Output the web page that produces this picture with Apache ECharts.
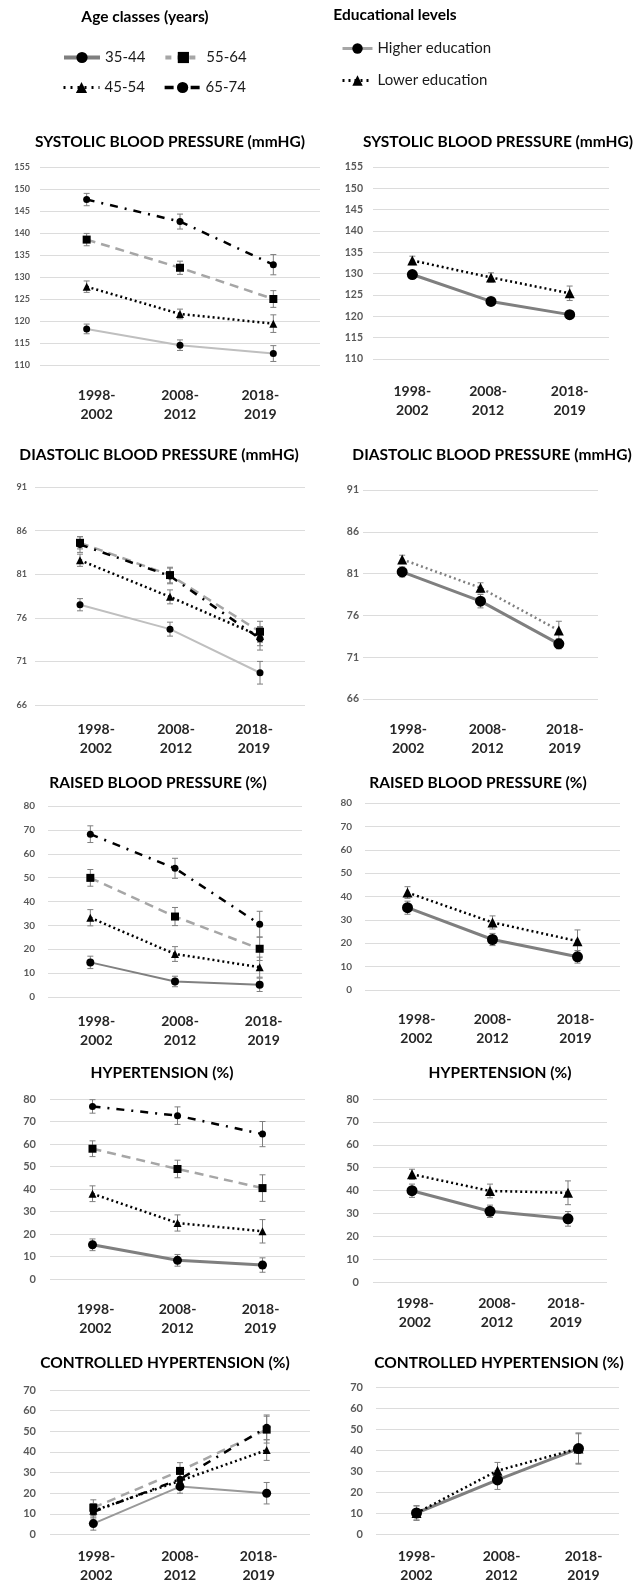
<!DOCTYPE html>
<html><head><meta charset="utf-8">
<script src="https://cdn.jsdelivr.net/npm/echarts@6/dist/echarts.min.js"></script>
<style>html,body{margin:0;padding:0;background:#fff}#c{width:639px;height:1582px}</style>
</head><body><div id="c"></div>
<script>
// ---------------- DATA ----------------
const categories = ['1998-\n2002', '2008-\n2012', '2018-\n2019'];
const ageGroups = ['35-44', '45-54', '55-64', '65-74'];
const eduGroups = ['Higher education', 'Lower education'];

// tick labels
const ticksSBP = [110, 115, 120, 125, 130, 135, 140, 145, 150, 155];
const ticksDBP = [66, 71, 76, 81, 86, 91];
const ticksRaised = [0, 10, 20, 30, 40, 50, 60, 70, 80];
const ticksHyp = [0, 10, 20, 30, 40, 50, 60, 70, 80];
const ticksCtrl = [0, 10, 20, 30, 40, 50, 60, 70];

// Systolic blood pressure (mmHg)
const sbp_35_44 = [118.2, 114.5, 112.6], sbp_35_44_err = [1.1, 1.2, 1.8];
const sbp_45_54 = [127.8, 121.6, 119.4], sbp_45_54_err = [1.3, 1.1, 2.0];
const sbp_55_64 = [138.5, 132.1, 125.0], sbp_55_64_err = [1.4, 1.5, 1.9];
const sbp_65_74 = [147.6, 142.6, 132.8], sbp_65_74_err = [1.4, 1.7, 2.3];
const sbp_higher = [129.8, 123.5, 120.4], sbp_higher_err = [0.6, 0.5, 0.8];
const sbp_lower = [133.1, 129.1, 125.4], sbp_lower_err = [1.0, 1.1, 1.7];

// Diastolic blood pressure (mmHg)
const dbp_35_44 = [77.5, 74.7, 69.7], dbp_35_44_err = [0.7, 0.8, 1.3];
const dbp_45_54 = [82.6, 78.4, 73.9], dbp_45_54_err = [0.7, 0.8, 1.1];
const dbp_55_64 = [84.6, 80.9, 74.4], dbp_55_64_err = [0.7, 0.9, 1.2];
const dbp_65_74 = [84.4, 80.8, 73.6], dbp_65_74_err = [0.9, 0.9, 1.3];
const dbp_higher = [81.2, 77.7, 72.6], dbp_higher_err = [0.6, 0.8, 0.6];
const dbp_lower = [82.7, 79.3, 74.2], dbp_lower_err = [0.5, 0.6, 1.1];

// Raised blood pressure (%)
const rbp_35_44 = [14.5, 6.5, 5.1], rbp_35_44_err = [2.6, 2.2, 2.8];
const rbp_45_54 = [33.2, 18.0, 12.5], rbp_45_54_err = [3.4, 3.1, 4.2];
const rbp_55_64 = [49.9, 33.7, 20.2], rbp_55_64_err = [3.5, 3.8, 4.9];
const rbp_65_74 = [68.2, 53.9, 30.5], rbp_65_74_err = [3.5, 4.2, 5.4];
const rbp_higher = [35.2, 21.6, 14.2], rbp_higher_err = [2.8, 2.6, 2.7];
const rbp_lower = [41.7, 28.9, 20.9], rbp_lower_err = [2.5, 2.8, 4.8];

// Hypertension (%)
const hyp_35_44 = [15.2, 8.3, 6.2], hyp_35_44_err = [2.6, 2.6, 3.2];
const hyp_45_54 = [37.9, 24.9, 21.2], hyp_45_54_err = [3.5, 3.6, 5.2];
const hyp_55_64 = [57.9, 48.9, 40.4], hyp_55_64_err = [3.5, 3.9, 5.9];
const hyp_65_74 = [76.7, 72.6, 64.4], hyp_65_74_err = [3.0, 3.9, 5.6];
const hyp_higher = [39.9, 30.9, 27.6], hyp_higher_err = [2.9, 2.7, 3.2];
const hyp_lower = [47.1, 39.8, 39.0], hyp_lower_err = [2.2, 3.0, 5.2];

// Controlled hypertension (%)
const ctl_35_44 = [5.3, 23.2, 20.0], ctl_35_44_err = [3.2, 3.2, 5.2];
const ctl_45_54 = [11.5, 26.0, 40.9], ctl_45_54_err = [3.5, 4.0, 5.0];
const ctl_55_64 = [13.0, 30.8, 50.8], ctl_55_64_err = [3.8, 4.0, 6.5];
const ctl_65_74 = [11.0, 26.8, 51.9], ctl_65_74_err = [4.0, 4.5, 6.0];
const ctl_higher = [10.2, 25.9, 40.8], ctl_higher_err = [3.3, 4.5, 7.0];
const ctl_lower = [10.2, 30.3, 40.8], ctl_lower_err = [3.5, 3.9, 7.4];

// ---------------- STYLE / LAYOUT ----------------
const FONT = 'Lato, "Open Sans", sans-serif';
const ageStyle = {
  '35-44': { symbol: 'circle', size: 7, line: { color: '#bfbfbf', width: 2, type: 'solid' } },
  '45-54': { symbol: 'triangle', size: 8, line: { color: '#000', width: 2.5, type: [2, 3] } },
  '55-64': { symbol: 'rect', size: 8, line: { color: '#a6a6a6', width: 2.5, type: [9, 6] } },
  '65-74': { symbol: 'circle', size: 7, line: { color: '#000', width: 2.5, type: [8, 7, 2, 7] } }
};
const eduStyle = {
  'Higher education': { symbol: 'circle', size: 11, line: { color: '#7f7f7f', width: 3, type: 'solid' } },
  'Lower education': { symbol: 'triangle', size: 10, line: { color: '#000', width: 2.5, type: [2, 3] } }
};

const panels = [
  { title: 'SYSTOLIC BLOOD PRESSURE (mmHG)', tx: 170, ty: 142, grid: [40, 167, 280, 198], ticks: ticksSBP, yfs: 9, ym: 10, xm: 21, shift: [10, 0, -13],
    kind: 'age', vals: [[sbp_35_44, sbp_35_44_err], [sbp_45_54, sbp_45_54_err], [sbp_55_64, sbp_55_64_err], [sbp_65_74, sbp_65_74_err]], o35: { color: '#bfbfbf', width: 2, size: 7 } },
  { title: 'SYSTOLIC BLOOD PRESSURE (mmHG)', tx: 498, ty: 142, grid: [373, 167, 236, 192], ticks: ticksSBP, yfs: 10.5, ym: 10, xm: 23, shift: [0, -3, 0],
    kind: 'edu', vals: [[sbp_higher, sbp_higher_err], [sbp_lower, sbp_lower_err]] },
  { title: 'DIASTOLIC BLOOD PRESSURE (mmHG)', tx: 159, ty: 455, grid: [35, 487, 270, 218], ticks: ticksDBP, yfs: 9, ym: 8, xm: 15, shift: [16, 6, -6],
    kind: 'age', vals: [[dbp_35_44, dbp_35_44_err], [dbp_45_54, dbp_45_54_err], [dbp_55_64, dbp_55_64_err], [dbp_65_74, dbp_65_74_err]], o35: { color: '#bfbfbf', width: 2, size: 7 } },
  { title: 'DIASTOLIC BLOOD PRESSURE (mmHG)', tx: 492, ty: 455, grid: [363, 490, 235, 209], ticks: ticksDBP, yfs: 10.5, ym: 4, xm: 21, shift: [6, 7, 6],
    kind: 'edu', vals: [[dbp_higher, dbp_higher_err], [dbp_lower, dbp_lower_err]], lowerColor: '#808080' },
  { title: 'RAISED BLOOD PRESSURE (%)', tx: 158, ty: 783, grid: [48, 806, 254, 191], ticks: ticksRaised, yfs: 10, ym: 13, xm: 15, shift: [6, 5, 4],
    kind: 'age', vals: [[rbp_35_44, rbp_35_44_err], [rbp_45_54, rbp_45_54_err], [rbp_55_64, rbp_55_64_err], [rbp_65_74, rbp_65_74_err]], o35: { color: '#808080', width: 2, size: 8 } },
  { title: 'RAISED BLOOD PRESSURE (%)', tx: 478, ty: 783, grid: [365, 803, 255, 187], ticks: ticksRaised, yfs: 10, ym: 13, xm: 20, shift: [9, 0, -2],
    kind: 'edu', vals: [[rbp_higher, rbp_higher_err], [rbp_lower, rbp_lower_err]] },
  { title: 'HYPERTENSION (%)', tx: 162, ty: 1073, grid: [50, 1099, 255, 180], ticks: ticksHyp, yfs: 11, ym: 14, xm: 21, shift: [3, 0, -2],
    kind: 'age', vals: [[hyp_35_44, hyp_35_44_err], [hyp_45_54, hyp_45_54_err], [hyp_55_64, hyp_55_64_err], [hyp_65_74, hyp_65_74_err]], o35: { color: '#7f7f7f', width: 3, size: 9 } },
  { title: 'HYPERTENSION (%)', tx: 500, ty: 1073, grid: [373, 1099, 234, 183], ticks: ticksHyp, yfs: 11, ym: 14, xm: 12, shift: [3, 7, -2],
    kind: 'edu', vals: [[hyp_higher, hyp_higher_err], [hyp_lower, hyp_lower_err]] },
  { title: 'CONTROLLED HYPERTENSION (%)', tx: 165, ty: 1363, grid: [50, 1390, 260, 146], ticks: ticksCtrl, yfs: 11, ym: 14, xm: 12, shift: [3, 0, -8],
    kind: 'age', vals: [[ctl_35_44, ctl_35_44_err], [ctl_45_54, ctl_45_54_err], [ctl_55_64, ctl_55_64_err], [ctl_65_74, ctl_65_74_err]], o35: { color: '#999999', width: 2, size: 9 } },
  { title: 'CONTROLLED HYPERTENSION (%)', tx: 499, ty: 1363, grid: [376, 1387, 243, 149], ticks: ticksCtrl, yfs: 11, ym: 13, xm: 12, shift: [0, 4, 5],
    kind: 'edu', vals: [[ctl_higher, ctl_higher_err], [ctl_lower, ctl_lower_err]] }
];

// ---------------- BUILD ----------------
const option = {
  animation: false,
  backgroundColor: '#ffffff',
  grid: [], xAxis: [], yAxis: [], series: [],
  graphic: [],
  legend: []
};

function errSeries(i, vals, errs) {
  return {
    type: 'custom', xAxisIndex: i, yAxisIndex: i, silent: true, z: 2,
    data: vals.map((v, k) => [k, v - errs[k], v + errs[k]]),
    encode: { x: 0, y: [1, 2] },
    renderItem: function (params, api) {
      const lo = api.coord([api.value(0), api.value(1)]);
      const hi = api.coord([api.value(0), api.value(2)]);
      const w = 3;
      const st = { stroke: '#7f7f7f', lineWidth: 1 };
      return {
        type: 'group', children: [
          { type: 'line', shape: { x1: lo[0], y1: lo[1], x2: hi[0], y2: hi[1] }, style: st },
          { type: 'line', shape: { x1: lo[0] - w, y1: lo[1], x2: lo[0] + w, y2: lo[1] }, style: st },
          { type: 'line', shape: { x1: hi[0] - w, y1: hi[1], x2: hi[0] + w, y2: hi[1] }, style: st }
        ]
      };
    }
  };
}

panels.forEach((p, i) => {
  option.grid.push({ left: p.grid[0], top: p.grid[1], width: p.grid[2], height: p.grid[3] });
  const rich = {};
  p.shift.forEach((s, k) => {
    rich['s' + k] = {
      fontFamily: FONT, fontWeight: 'bold', fontSize: 14, color: '#262626', lineHeight: 19,
      padding: s >= 0 ? [0, 0, 0, 2 * s] : [0, -2 * s, 0, 0]
    };
  });
  option.xAxis.push({
    type: 'category', gridIndex: i, data: categories, boundaryGap: true,
    axisLine: { show: false }, axisTick: { show: false },
    axisLabel: {
      margin: p.xm, interval: 0,
      formatter: function (v, idx) { return v.split('\n').map(l => '{s' + idx + '|' + l + '}').join('\n'); },
      rich: rich
    }
  });
  option.yAxis.push({
    type: 'value', gridIndex: i, min: p.ticks[0], max: p.ticks[p.ticks.length - 1],
    axisLine: { show: false }, axisTick: { show: false, customValues: p.ticks },
    axisLabel: { customValues: p.ticks, fontFamily: FONT, fontWeight: 'bold', fontSize: p.yfs, color: '#595959', margin: p.ym },
    splitLine: { show: true, lineStyle: { color: '#dcdcdc', width: 1 } }
  });
  const names = p.kind === 'age' ? ageGroups : eduGroups;
  names.forEach((nm, j) => {
    const st = p.kind === 'age' ? ageStyle[nm] : eduStyle[nm];
    let line = Object.assign({}, st.line);
    let size = st.size;
    if (nm === '35-44' && p.o35) { line.color = p.o35.color; line.width = p.o35.width; size = p.o35.size; }
    if (nm === 'Lower education' && p.lowerColor) { line.color = p.lowerColor; }
    const [vals, errs] = p.vals[j];
    option.series.push({
      name: nm, type: 'line', xAxisIndex: i, yAxisIndex: i, data: vals,
      symbol: st.symbol, symbolSize: size, showSymbol: true, z: 3,
      lineStyle: line, itemStyle: { color: '#000' }, emphasis: { disabled: true }
    });
    option.series.push(errSeries(i, vals, errs));
  });
  option.graphic.push({
    type: 'text', x: p.tx, y: p.ty,
    style: { text: p.title, fontFamily: FONT, fontWeight: 'bold', fontSize: 15.5, fill: '#000', align: 'center', verticalAlign: 'middle' }
  });
});

option.graphic.push({ type: 'text', x: 145, y: 17, style: { text: 'Age classes (years)', fontFamily: FONT, fontWeight: 'bold', fontSize: 15.5, fill: '#000', align: 'center', verticalAlign: 'middle' } });
option.graphic.push({ type: 'text', x: 395, y: 15, style: { text: 'Educational levels', fontFamily: FONT, fontWeight: 'bold', fontSize: 15.5, fill: '#000', align: 'center', verticalAlign: 'middle' } });

const legText = { fontFamily: FONT, fontSize: 15, color: '#1a1a1a' };
const legAge = {
  '35-44': { name: '35-44', lineStyle: { color: '#7f7f7f', width: 4, type: 'solid' }, itemStyle: { color: '#000' } },
  '55-64': { name: '55-64', lineStyle: { color: '#a6a6a6', width: 4, type: [6, 6] }, itemStyle: { color: '#000' } },
  '45-54': { name: '45-54', lineStyle: { color: '#000', width: 3, type: [2, 5] }, itemStyle: { color: '#000' } },
  '65-74': { name: '65-74', lineStyle: { color: '#000', width: 3.5, type: [9, 4] }, itemStyle: { color: '#000' } }
};
option.legend.push({ left: 57, top: 45, itemWidth: 36, itemHeight: 14, itemGap: 18, selectedMode: false, textStyle: legText, data: [legAge['35-44'], legAge['55-64']] });
option.legend.push({ left: 57, top: 75, itemWidth: 36, itemHeight: 14, itemGap: 18, selectedMode: false, textStyle: legText, data: [legAge['45-54'], legAge['65-74']] });
option.legend.push({
  left: 336, top: 36, orient: 'vertical', itemWidth: 30, itemHeight: 13, itemGap: 17, selectedMode: false, textStyle: legText,
  data: [
    { name: 'Higher education', lineStyle: { color: '#a6a6a6', width: 3, type: 'solid' }, itemStyle: { color: '#000' } },
    { name: 'Lower education', lineStyle: { color: '#000', width: 3, type: [2, 4] }, itemStyle: { color: '#000' } }
  ]
});

const chart = echarts.init(document.getElementById('c'), null, { renderer: 'canvas' });
chart.setOption(option);
</script>
</body></html>
